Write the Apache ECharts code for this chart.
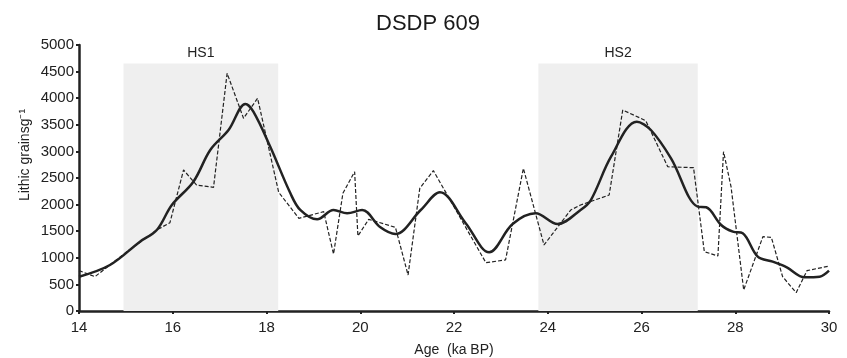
<!DOCTYPE html>
<html><head><meta charset="utf-8">
<script src="https://cdn.jsdelivr.net/npm/echarts@6/dist/echarts.min.js"></script>
<style>html,body{margin:0;padding:0;background:#fff}#c{width:847px;height:358px}</style>
</head><body><div id="c"></div>
<script>
const titleText = 'DSDP 609';
const xName = 'Age  (ka BP)';
const yName = 'Lithic grainsg\u207B\u00B9';
const xTicks = [14, 16, 18, 20, 22, 24, 26, 28, 30];
const yTicks = [0, 500, 1000, 1500, 2000, 2500, 3000, 3500, 4000, 4500, 5000];

const rawAges = [14.0, 14.34, 15.0, 15.66, 15.94, 16.23, 16.51, 16.87, 17.16, 17.51, 17.81, 18.26, 18.69, 19.22, 19.43, 19.63, 19.88, 19.95, 20.18, 20.75, 21.02, 21.27, 21.56, 22.68, 23.10, 23.48, 23.92, 24.49, 24.70, 25.31, 25.60, 26.09, 26.56, 27.11, 27.34, 27.63, 27.75, 27.91, 28.18, 28.59, 28.77, 29.01, 29.30, 29.53, 30.0];
const rawVals = [760, 645, 1100, 1523, 1660, 2650, 2368, 2325, 4468, 3622, 3998, 2231, 1742, 1867, 1071, 2212, 2619, 1410, 1723, 1573, 677, 2306, 2638, 909, 959, 2682, 1241, 1898, 1992, 2180, 3778, 3578, 2712, 2694, 1115, 1034, 2995, 2337, 395, 1397, 1385, 645, 345, 758, 845];

const smoothAges = [14.0, 14.66, 15.3, 15.66, 15.98, 16.44, 16.8, 17.19, 17.55, 17.72, 18.08, 18.51, 18.72, 19.08, 19.43, 19.72, 20.04, 20.43, 20.75, 21.29, 21.70, 22.25, 22.75, 23.25, 23.74, 24.21, 24.70, 24.92, 25.35, 25.9, 26.2, 26.63, 27.2, 27.38, 27.7, 27.95, 28.16, 28.48, 28.8, 29.1, 29.48, 29.8, 30.0];
const smoothVals = [645, 865, 1303, 1523, 1992, 2430, 3026, 3402, 3891, 3747, 3088, 2212, 1900, 1723, 1898, 1836, 1898, 1573, 1447, 1898, 2231, 1650, 1103, 1635, 1836, 1635, 1898, 2086, 2900, 3558, 3402, 2870, 1961, 1949, 1617, 1491, 1460, 1021, 927, 820, 633, 645, 758];

const bandNames = ['HS1', 'HS2'];
const bandStart = [14.95, 23.8];
const bandEnd = [18.25, 27.2];
const bandTop = 4650;

const FONT = 'Liberation Sans, Arial, sans-serif';
const chart = echarts.init(document.getElementById('c'), null, {renderer: 'canvas'});
const zip = (a, b) => a.map((v, i) => [v, b[i]]);

chart.setOption({
  animation: false,
  title: {text: titleText, left: 423, top: 8, textAlign: 'center',
    textStyle: {fontFamily: FONT, fontSize: 22, fontWeight: 'normal', color: '#1a1a1a'}},
  graphic: [{type: 'text', x: 25, y: 155, rotation: Math.PI / 2,
    style: {text: yName, fontFamily: FONT, fontSize: 14, fill: '#222', align: 'center', verticalAlign: 'middle'}}],
  grid: {left: 79, right: 18, top: 45, bottom: 47, containLabel: false, outerBoundsMode: 'none'},
  xAxis: {type: 'value', min: xTicks[0], max: xTicks[xTicks.length - 1], interval: 2,
    name: xName, nameLocation: 'middle', nameGap: 32,
    nameTextStyle: {fontFamily: FONT, fontSize: 14, color: '#222'},
    axisLine: {lineStyle: {color: '#222', width: 2.5}},
    axisTick: {show: true, length: 3, lineStyle: {color: '#222', width: 2}},
    axisLabel: {fontFamily: FONT, fontSize: 15, color: '#222', margin: 9},
    splitLine: {show: false}},
  yAxis: {type: 'value', min: yTicks[0], max: yTicks[yTicks.length - 1], interval: 500,
    axisLine: {show: true, lineStyle: {color: '#222', width: 2.5}},
    axisTick: {show: true, length: 3, lineStyle: {color: '#222', width: 2}},
    axisLabel: {fontFamily: FONT, fontSize: 15, color: '#222', margin: 5, formatter: v => String(v)},
    splitLine: {show: false}},
  series: [
    {type: 'line', name: 'raw', data: zip(rawAges, rawVals), symbol: 'none', z: 3,
      lineStyle: {color: '#222', width: 1.2, type: [4, 2]},
      markArea: {silent: true, itemStyle: {color: '#efefef'},
        label: {show: true, position: 'top', distance: 3, fontFamily: FONT, fontSize: 14, color: '#222'},
        data: bandNames.map((n, i) => [{name: n, xAxis: bandStart[i], yAxis: 0}, {xAxis: bandEnd[i], yAxis: bandTop}])}},
    {type: 'line', name: 'smooth', data: zip(smoothAges, smoothVals), symbol: 'none', smooth: 0.35, z: 4,
      lineStyle: {color: '#222', width: 2.5}}
  ]
});
</script></body></html>
